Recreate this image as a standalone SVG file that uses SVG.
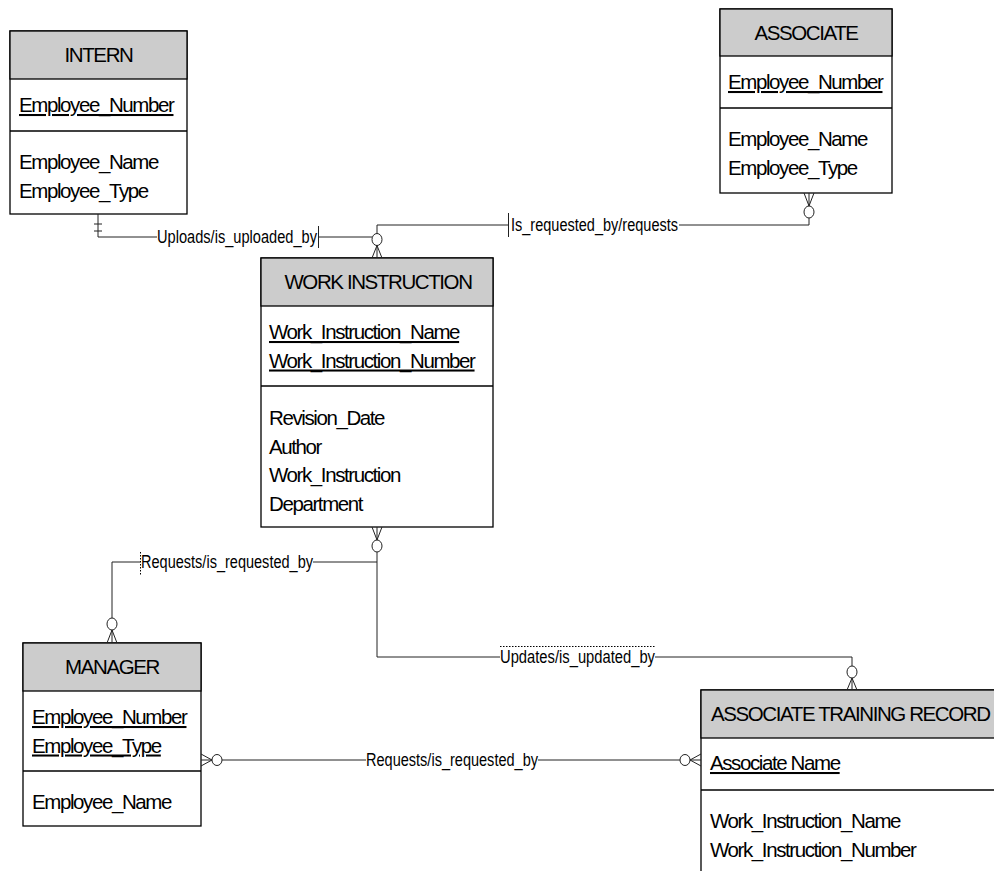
<svg xmlns="http://www.w3.org/2000/svg" width="994" height="871" viewBox="0 0 994 871">
<style>
.box{fill:#fff;stroke:#000;stroke-width:1.3}
.hdr{fill:#cccccc;stroke:#000;stroke-width:1.3}
.sep{stroke:#000;stroke-width:1.3}
.t{font-family:"Liberation Sans",Arial,sans-serif;font-size:20.5px;letter-spacing:-1.4px;fill:#000}
.title{text-anchor:middle}
.key{text-decoration:underline}
.lbl{font-family:"Liberation Sans",Arial,sans-serif;font-size:17.5px;fill:#000}
.ln{fill:none;stroke:#222;stroke-width:1}
.dot{fill:none;stroke:#000;stroke-width:1;stroke-dasharray:1.5 1.5}
</style>
<rect width="994" height="871" fill="#fff"/>

<g id="intern">
<rect class="box" x="10" y="31" width="177" height="183"/>
<rect class="hdr" x="10" y="31" width="177" height="48"/>
<line class="sep" x1="10" y1="131" x2="187" y2="131"/>
<text class="t title" x="98.5" y="62">INTERN</text>
<text class="t key" x="19" y="112">Employee_Number</text>
<text class="t" x="19" y="169">Employee_Name</text>
<text class="t" x="19" y="197.5">Employee_Type</text>
</g>

<g id="associate">
<rect class="box" x="720" y="9" width="172" height="184"/>
<rect class="hdr" x="720" y="9" width="172" height="47"/>
<line class="sep" x1="720" y1="108" x2="892" y2="108"/>
<text class="t title" x="806" y="40">ASSOCIATE</text>
<text class="t key" x="728" y="89">Employee_Number</text>
<text class="t" x="728" y="146">Employee_Name</text>
<text class="t" x="728" y="174.5">Employee_Type</text>
</g>

<g id="work-instruction">
<rect class="box" x="261" y="258" width="232" height="269"/>
<rect class="hdr" x="261" y="258" width="232" height="48"/>
<line class="sep" x1="261" y1="386" x2="493" y2="386"/>
<text class="t title" x="378" y="289">WORK INSTRUCTION</text>
<text class="t key" x="269" y="339">Work_Instruction_Name</text>
<text class="t key" x="269" y="367.5">Work_Instruction_Number</text>
<text class="t" x="269" y="425">Revision_Date</text>
<text class="t" x="269" y="453.5">Author</text>
<text class="t" x="269" y="482">Work_Instruction</text>
<text class="t" x="269" y="510.5">Department</text>
</g>

<g id="manager">
<rect class="box" x="23" y="643" width="178" height="183"/>
<rect class="hdr" x="23" y="643" width="178" height="48"/>
<line class="sep" x1="23" y1="771" x2="201" y2="771"/>
<text class="t title" x="112" y="674">MANAGER</text>
<text class="t key" x="32" y="724">Employee_Number</text>
<text class="t key" x="32" y="752.5">Employee_Type</text>
<text class="t" x="32" y="809">Employee_Name</text>
</g>

<g id="associate-training-record">
<rect class="box" x="701" y="690" width="320" height="200"/>
<rect class="hdr" x="701" y="690" width="320" height="48"/>
<line class="sep" x1="701" y1="790" x2="1021" y2="790"/>
<text class="t" x="711" y="721">ASSOCIATE TRAINING RECORD</text>
<text class="t key" x="710" y="770">Associate Name</text>
<text class="t" x="710" y="828">Work_Instruction_Name</text>
<text class="t" x="710" y="856.5">Work_Instruction_Number</text>
</g>

<g id="connectors">
<!-- INTERN - WORK INSTRUCTION -->
<path class="ln" d="M98,214 V237 H157"/>
<path class="ln" d="M94,224 H102 M94,231 H102"/>
<path class="ln" d="M319,237 H372"/>
<path class="ln" d="M318.5,226 V248"/>
<text class="lbl" x="157" y="243" textLength="160" lengthAdjust="spacingAndGlyphs">Uploads/is_uploaded_by</text>
<ellipse class="ln" cx="377" cy="239.5" rx="5" ry="6"/>
<path class="ln" d="M377,245.5 L372,258 M377,245.5 V258 M377,245.5 L382,258"/>

<!-- WORK INSTRUCTION - ASSOCIATE -->
<path class="ln" d="M377,233.5 V225 H508"/>
<path class="ln" d="M508.5,213 V237"/>
<text class="lbl" x="511" y="231" textLength="167" lengthAdjust="spacingAndGlyphs">Is_requested_by/requests</text>
<path class="ln" d="M679,225 H809 V218"/>
<ellipse class="ln" cx="809" cy="212" rx="5" ry="6"/>
<path class="ln" d="M809,206 L804,193 M809,206 V193 M809,206 L814,193"/>

<!-- WORK INSTRUCTION - MANAGER -->
<path class="ln" d="M377,540 L372,527 M377,540 V527 M377,540 L382,527"/>
<ellipse class="ln" cx="377" cy="546" rx="5" ry="6"/>
<path class="ln" d="M377,552 V657"/>
<path class="ln" d="M377,562 H313"/>
<text class="lbl" x="141" y="568" textLength="172" lengthAdjust="spacingAndGlyphs">Requests/is_requested_by</text>
<path class="dot" d="M140.5,552 V575"/>
<path class="ln" d="M140,562 H112 V618"/>
<ellipse class="ln" cx="112" cy="624" rx="5" ry="6"/>
<path class="ln" d="M112,630 L107,643 M112,630 V643 M112,630 L117,643"/>

<!-- WORK INSTRUCTION - ASSOCIATE TRAINING RECORD -->
<path class="ln" d="M377,657 H500"/>
<text class="lbl" x="500" y="663" textLength="155" lengthAdjust="spacingAndGlyphs">Updates/is_updated_by</text>
<path class="dot" d="M500,646.5 H655"/>
<path class="ln" d="M655,657 H852 V666"/>
<ellipse class="ln" cx="852" cy="672" rx="5" ry="6"/>
<path class="ln" d="M852,678 L847,690 M852,678 V690 M852,678 L857,690"/>

<!-- MANAGER - ASSOCIATE TRAINING RECORD -->
<path class="ln" d="M212,760 L201,754 M212,760 H201 M212,760 L201,766"/>
<ellipse class="ln" cx="217" cy="760" rx="5" ry="5.5"/>
<path class="ln" d="M222,760 H366"/>
<text class="lbl" x="366" y="766" textLength="172" lengthAdjust="spacingAndGlyphs">Requests/is_requested_by</text>
<path class="ln" d="M538,760 H680"/>
<ellipse class="ln" cx="685" cy="760" rx="5" ry="5.5"/>
<path class="ln" d="M690,760 L701,754 M690,760 H701 M690,760 L701,766"/>
</g>
</svg>
